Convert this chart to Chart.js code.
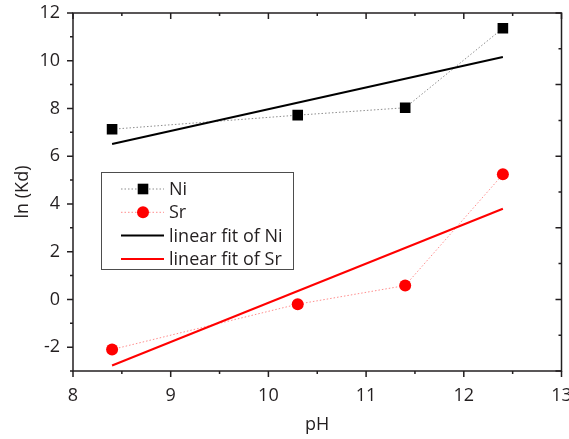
<!DOCTYPE html>
<html>
<head>
<meta charset="utf-8">
<script src="https://cdn.jsdelivr.net/npm/chart.js@4"></script>
<style>
  body { margin: 0; background: #fff; }
  #wrap { width: 569px; height: 439px; }
</style>
</head>
<body>
<div id="wrap"><canvas id="kdChart" width="569" height="439"></canvas></div>
<script>
// measured values
const pH = [8.4, 10.3, 11.4, 12.4];
const lnKdNi = [7.13, 7.72, 8.03, 11.36];
const lnKdSr = [-2.1, -0.2, 0.58, 5.24];
// linear fit end points
const fitPH = [8.4, 12.4];
const fitNi = [6.51, 10.16];
const fitSr = [-2.77, 3.8];
// labelled ticks
const xTicks = [8, 9, 10, 11, 12, 13];
const yTicks = [-2, 0, 2, 4, 6, 8, 10, 12];

const axisColor = '#231f20';
const fontFamily = "'Open Sans', sans-serif";

function pts(xs, ys) {
  return xs.map(function(x, i) { return {x: x, y: ys[i]}; });
}

// ticks on all four sides, origin style (minor ticks too)
const tickPlugin = {
  id: 'frameTicks',
  afterDraw: function(chart) {
    const ctx = chart.ctx, a = chart.chartArea;
    const xs = chart.scales.x, ys = chart.scales.y;
    ctx.save();
    ctx.strokeStyle = axisColor;
    ctx.lineWidth = 1.5;
    ctx.strokeRect(a.left, a.top, a.right - a.left, a.bottom - a.top);
    ctx.beginPath();
    for (let v = 8; v <= 13.001; v += 0.5) {
      const px = xs.getPixelForValue(v);
      const len = (Math.abs(v - Math.round(v)) < 0.01) ? 6 : 3;
      ctx.moveTo(px, a.bottom); ctx.lineTo(px, a.bottom + len);
      ctx.moveTo(px, a.top); ctx.lineTo(px, a.top + len);
    }
    for (let v = -3; v <= 12.001; v += 1) {
      const py = ys.getPixelForValue(v);
      const len = (Math.abs(v % 2) < 0.01) ? 6 : 3;
      ctx.moveTo(a.left, py); ctx.lineTo(a.left - len, py);
    }
    for (let v = -3; v <= 12.001; v += 1.5) {
      const py = ys.getPixelForValue(v);
      const len = (Math.abs(v % 3) < 0.01) ? 6 : 3;
      ctx.moveTo(a.right, py); ctx.lineTo(a.right - len, py);
    }
    ctx.stroke();
    ctx.restore();
  }
};

// legend box inside the plot
const legendPlugin = {
  id: 'boxLegend',
  afterDraw: function(chart) {
    const ctx = chart.ctx;
    const bx = 101, by = 172, bw = 192, bh = 97;
    ctx.save();
    ctx.strokeStyle = '#4d4d4d';
    ctx.lineWidth = 1;
    ctx.strokeRect(bx + 0.5, by + 0.5, bw, bh);
    ctx.font = '18px ' + fontFamily;
    ctx.textBaseline = 'middle';
    chart.data.datasets.forEach(function(ds, i) {
      const y = by + 17 + i * 23.3;
      ctx.save();
      ctx.strokeStyle = ds.borderColor;
      ctx.lineWidth = ds.borderWidth;
      ctx.setLineDash(ds.borderDash || []);
      ctx.beginPath();
      ctx.moveTo(121, y); ctx.lineTo(164, y);
      ctx.stroke();
      ctx.restore();
      if (ds.pointRadius > 0) {
        ctx.fillStyle = ds.pointBackgroundColor;
        if (ds.pointStyle === 'rect') {
          const s = ds.pointRadius * Math.SQRT1_2;
          ctx.fillRect(143 - s, y - s, 2 * s, 2 * s);
        } else {
          ctx.beginPath();
          ctx.arc(143, y, ds.pointRadius, 0, Math.PI * 2);
          ctx.fill();
        }
      }
      ctx.fillStyle = axisColor;
      ctx.fillText(ds.label, 169, y + 1);
    });
    ctx.restore();
  }
};

new Chart('kdChart', {
  type: 'scatter',
  data: {
    datasets: [{
      label: 'Ni',
      data: pts(pH, lnKdNi),
      showLine: true,
      borderColor: 'rgba(0,0,0,0.45)',
      borderWidth: 1,
      borderDash: [1.5, 2],
      pointStyle: 'rect',
      pointRadius: 7.5,
      pointBackgroundColor: '#000',
      pointBorderWidth: 0
    }, {
      label: 'Sr',
      data: pts(pH, lnKdSr),
      showLine: true,
      borderColor: 'rgba(255,0,0,0.45)',
      borderWidth: 1,
      borderDash: [1.5, 2],
      pointStyle: 'circle',
      pointRadius: 6,
      pointBackgroundColor: '#ff0000',
      pointBorderWidth: 0
    }, {
      label: 'linear fit of Ni',
      data: pts(fitPH, fitNi),
      showLine: true,
      borderColor: '#000',
      borderWidth: 2,
      pointRadius: 0
    }, {
      label: 'linear fit of Sr',
      data: pts(fitPH, fitSr),
      showLine: true,
      borderColor: '#ff0000',
      borderWidth: 2,
      pointRadius: 0
    }]
  },
  options: {
    responsive: false,
    animation: false,
    layout: {padding: {top: 13, right: 7, left: 0, bottom: 0}},
    plugins: {legend: {display: false}, tooltip: {enabled: false}},
    scales: {
      x: {
        type: 'linear', min: 8, max: 13,
        grid: {display: false, drawTicks: false},
        border: {display: false},
        ticks: {padding: 14, color: axisColor, font: {family: fontFamily, size: 18}},
        afterBuildTicks: function(s) { s.ticks = xTicks.map(function(v) { return {value: v}; }); },
        title: {display: true, text: 'pH', color: axisColor, padding: {bottom: 3}, font: {family: fontFamily, size: 18}},
        afterFit: function(s) { s.height = 68; s.paddingLeft = 0; s.paddingRight = 0; }
      },
      y: {
        type: 'linear', min: -3, max: 12,
        grid: {display: false, drawTicks: false},
        border: {display: false},
        ticks: {padding: 13, color: axisColor, font: {family: fontFamily, size: 18}},
        afterBuildTicks: function(s) { s.ticks = yTicks.map(function(v) { return {value: v}; }); },
        title: {display: true, text: 'ln (Kd)', color: axisColor, padding: {top: 12}, font: {family: fontFamily, size: 18}},
        afterFit: function(s) { s.width = 73; s.paddingTop = 0; s.paddingBottom = 0; }
      }
    }
  },
  plugins: [tickPlugin, legendPlugin]
});
</script>
</body>
</html>
